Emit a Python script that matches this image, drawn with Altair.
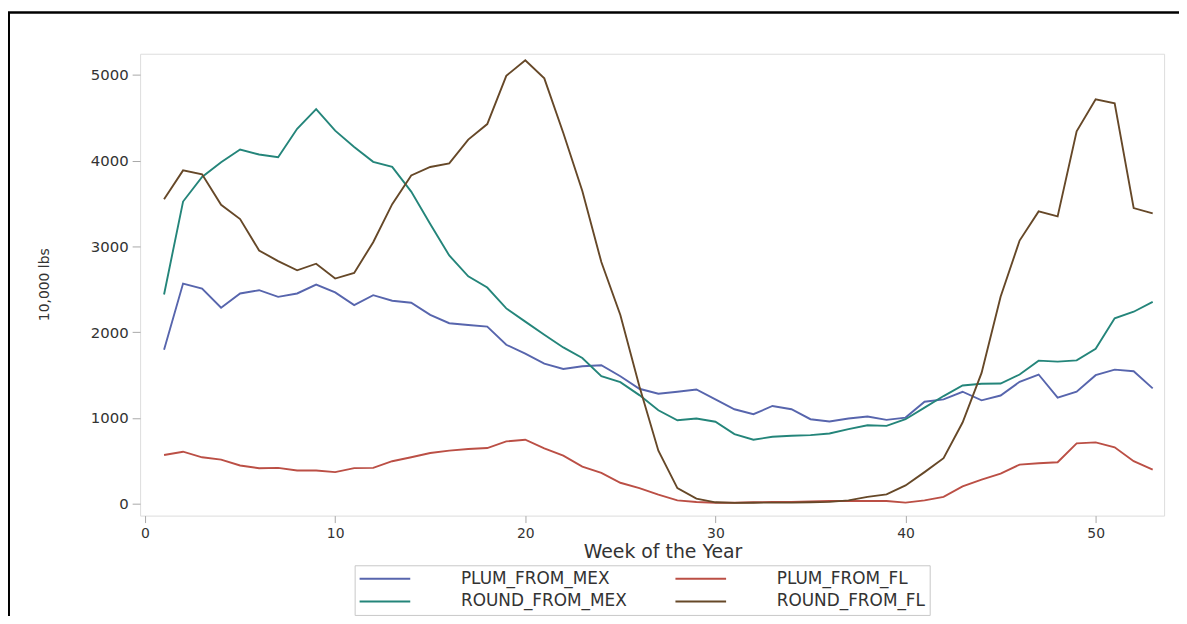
import altair as alt
import pandas as pd

weeks = list(range(1, 54))

plum_from_mex = [1794, 2566, 2508, 2284, 2450, 2488, 2411, 2450, 2554, 2462,
                 2315, 2430, 2365, 2342, 2200, 2103, 2083, 2064, 1852, 1748,
                 1632, 1570, 1601, 1613, 1485, 1339, 1281, 1304, 1331, 1215,
                 1100, 1042, 1138, 1100, 984, 957, 992, 1015, 976, 1003,
                 1188, 1215, 1304, 1204, 1260, 1420, 1505, 1235, 1304, 1497,
                 1562, 1543, 1343]

plum_from_fl = [567, 605, 540, 513, 444, 413, 417, 386, 386, 367,
                413, 417, 494, 540, 590, 617, 637, 648, 725, 745,
                644, 559, 432, 359, 243, 181, 104, 38, 19, 10,
                10, 15, 20, 20, 25, 30, 30, 30, 30, 12,
                38, 78, 200, 280, 350, 455, 471, 482, 702, 714,
                656, 494, 397]

round_from_mex = [2438, 3522, 3808, 3981, 4128, 4070, 4039, 4371, 4599, 4348,
                  4159, 3985, 3927, 3638, 3260, 2893, 2650, 2519, 2276, 2122,
                  1968, 1821, 1698, 1485, 1416, 1265, 1088, 972, 992, 955,
                  810, 745, 779, 791, 799, 818, 868, 914, 906, 984,
                  1119, 1254, 1377, 1397, 1400, 1505, 1667, 1655, 1670, 1806,
                  2160, 2237, 2353]

round_from_fl = [3549, 3885, 3839, 3484, 3318, 2951, 2828, 2720, 2797, 2624,
                 2689, 3048, 3492, 3827, 3925, 3966, 4244, 4425, 4988, 5170,
                 4958, 4321, 3646, 2816, 2199, 1369, 617, 181, 58, 15,
                 8, 10, 12, 12, 15, 20, 38, 78, 108, 212,
                 367, 529, 945, 1524, 2411, 3067, 3407, 3349, 4340, 4714,
                 4668, 3446, 3383]

series_names = ["PLUM_FROM_MEX", "PLUM_FROM_FL", "ROUND_FROM_MEX", "ROUND_FROM_FL"]
series_values = [plum_from_mex, plum_from_fl, round_from_mex, round_from_fl]
series_colors = ["#5765ad", "#bb4f45", "#24857a", "#664828"]

x_ticks = [0, 10, 20, 30, 40, 50]
y_ticks = [0, 1000, 2000, 3000, 4000, 5000]

rows = []
for name, vals in zip(series_names, series_values):
    for w, v in zip(weeks, vals):
        rows.append({"week": w, "value": v, "series": name})
df = pd.DataFrame(rows)

FONT = "DejaVu Sans"

lines = alt.Chart(df).mark_line(strokeWidth=1.9).encode(
    x=alt.X("week:Q",
            scale=alt.Scale(domain=[-0.26, 53.6], nice=False, zero=False),
            axis=alt.Axis(values=x_ticks, format="d", title="Week of the Year",
                          grid=False, domain=False, tickColor="#a8a8a8", tickSize=7,
                          labelFont=FONT, labelFontSize=14, labelColor="#333333",
                          labelPadding=4,
                          titleFont=FONT, titleFontSize=19, titleFontWeight="normal",
                          titleColor="#333333", titleX=526, titleY=36,
                          titleBaseline="middle")),
    y=alt.Y("value:Q",
            scale=alt.Scale(domain=[-140, 5245], nice=False, zero=False),
            axis=alt.Axis(values=y_ticks, format="d", title="10,000 lbs", grid=False,
                          domain=False, tickColor="#a8a8a8", tickSize=8,
                          labelFont=FONT, labelFontSize=15, labelColor="#333333",
                          labelPadding=4,
                          titleFont=FONT, titleFontSize=14, titleFontWeight="normal",
                          titleColor="#333333", titleX=-96, titleY=232,
                          titleAngle=-90, titleAlign="center",
                          titleBaseline="middle")),
    color=alt.Color("series:N",
                    scale=alt.Scale(domain=series_names, range=series_colors),
                    legend=alt.Legend(orient="none", legendX=216, legendY=515,
                                      direction="horizontal",
                                      title=None, columns=2,
                                      symbolType="stroke", symbolSize=2601,
                                      symbolStrokeWidth=2,
                                      labelFont=FONT, labelFontSize=17,
                                      labelLimit=300,
                                      labelColor="#333333", labelOffset=50,
                                      columnPadding=47, rowPadding=4,
                                      clipHeight=19,
                                      strokeColor="#c8c8c8", fillColor="white",
                                      padding=4)),
)

frame_df = pd.DataFrame({"k": [0]})
frame_left = alt.Chart(frame_df).mark_rule(color="black", strokeWidth=3).encode(
    x=alt.value(-132.5), y=alt.value(-42), y2=alt.value(600))
frame_top = alt.Chart(frame_df).mark_rule(color="black", strokeWidth=2.5).encode(
    x=alt.value(-134), x2=alt.value(1060), y=alt.value(-41.5))

chart = alt.layer(lines, frame_left, frame_top).properties(
    width=1031, height=465,
    padding={"left": 133, "top": 44, "right": 15, "bottom": 99},
    autosize=alt.AutoSizeParams(type="none"),
).configure_view(stroke="#b0b0b0", strokeWidth=1.6).configure(background="white")

chart.save("out.html", embed_options={"renderer": "svg", "actions": False})
